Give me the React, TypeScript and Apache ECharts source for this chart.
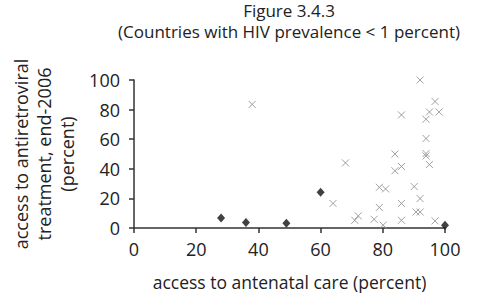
import React, { useEffect, useRef } from "react";
import * as echarts from "echarts";

const titleLine1 = "Figure 3.4.3";
const titleLine2 = "(Countries with HIV prevalence < 1 percent)";
const xAxisName = "access to antenatal care (percent)";
const yAxisName = "access to antiretroviral\ntreatment, end-2006\n(percent)";

// Countries marked with filled diamonds: [antenatal care %, ART access %]
const diamondPoints: number[][] = [
  [28, 6.8],
  [36, 3.7],
  [49, 3.2],
  [60, 24.2],
  [100, 1.9],
];

// Countries marked with crosses
const crossPoints: number[][] = [
  [38, 83.5],
  [92, 100],
  [96.8, 85.5],
  [95, 78.4],
  [98.1, 78.4],
  [93.9, 73.5],
  [86, 76.4],
  [93.9, 60.5],
  [93.9, 50.3],
  [93.9, 48.7],
  [95, 42.9],
  [83.9, 50],
  [86, 41.6],
  [83.9, 38.7],
  [68, 44],
  [78.9, 27.5],
  [80.9, 26.4],
  [90.1, 28],
  [92, 19.9],
  [64, 16.6],
  [78.9, 13.9],
  [86, 16.6],
  [90.7, 10.8],
  [92, 10.8],
  [72.1, 8.2],
  [71, 5.2],
  [77.2, 5.9],
  [86, 5.2],
  [96.8, 4.8],
  [80.1, 1.9],
];

const FONT = "'Open Sans', sans-serif";
const TEXT = "#222";

export default function App() {
  const ref = useRef<HTMLDivElement>(null);
  useEffect(() => {
    if (!ref.current) return;
    const chart = echarts.init(ref.current, null, { renderer: "svg" });
    chart.setOption({
      animation: false,
      backgroundColor: "#ffffff",
      textStyle: { fontFamily: FONT },
      graphic: [
        {
          type: "text",
          x: 289,
          y: 0,
          style: {
            text: `${titleLine1}\n${titleLine2}`,
            font: `17px ${FONT}`,
            lineHeight: 21,
            fill: TEXT,
            textAlign: "center",
            textVerticalAlign: "top",
          },
        },
      ],
      grid: { left: 134, right: 38, top: 80, bottom: 66, containLabel: false },
      xAxis: {
        type: "value",
        min: 0,
        max: 100,
        interval: 20,
        name: xAxisName,
        nameLocation: "middle",
        nameGap: 45,
        nameTextStyle: { fontSize: 17.5, color: TEXT, fontFamily: FONT },
        axisLine: { lineStyle: { color: "#333", width: 1.5 } },
        axisTick: { show: true, length: 5, lineStyle: { color: "#333", width: 1.5 } },
        axisLabel: { fontSize: 18, color: TEXT, margin: 12, fontFamily: FONT },
        splitLine: { show: false },
      },
      yAxis: {
        type: "value",
        min: 0,
        max: 100,
        interval: 20,
        name: yAxisName,
        nameLocation: "middle",
        nameGap: 38,
        nameRotate: 90,
        nameTextStyle: { fontSize: 18, color: TEXT, lineHeight: 23, fontFamily: FONT },
        axisLine: { show: true, lineStyle: { color: "#333", width: 1.5 } },
        axisTick: { show: true, length: 5, lineStyle: { color: "#333", width: 1.5 } },
        axisLabel: { fontSize: 18, color: TEXT, margin: 14, fontFamily: FONT },
        splitLine: { show: false },
      },
      series: [
        {
          type: "scatter",
          name: "cross",
          data: crossPoints,
          symbol: "path://M0,0L10,10M10,0L0,10",
          symbolSize: 7,
          itemStyle: { color: "transparent", borderColor: "#888", borderWidth: 1 },
          z: 2,
        },
        {
          type: "scatter",
          name: "diamond",
          data: diamondPoints,
          symbol: "diamond",
          symbolSize: [8, 9],
          itemStyle: { color: "#111" },
          z: 3,
        },
      ],
    });
    return () => chart.dispose();
  }, []);
  return (
    <div
      ref={ref}
      style={{ position: "fixed", left: 0, top: 0, width: 483, height: 296 }}
    />
  );
}
